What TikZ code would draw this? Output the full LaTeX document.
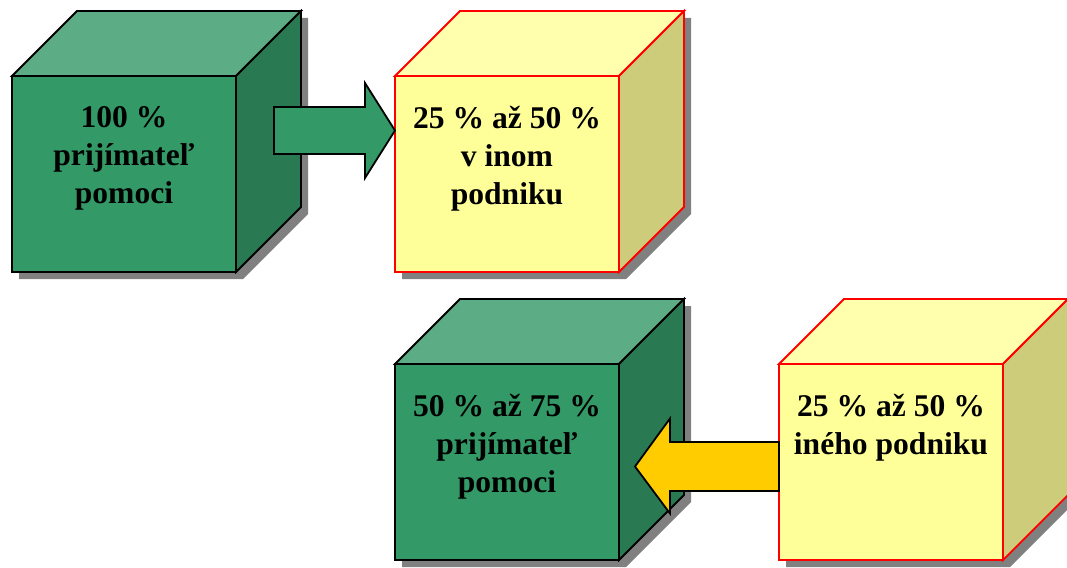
\documentclass[tikz,border=0pt]{standalone}
\usepackage{fontspec}
\setmainfont{Liberation Serif}
\usetikzlibrary{calc}
\definecolor{gfront}{RGB}{51,153,102}
\definecolor{gtop}{RGB}{92,173,133}
\definecolor{gside}{RGB}{41,122,82}
\definecolor{yfront}{RGB}{255,255,153}
\definecolor{ytop}{RGB}{255,255,173}
\definecolor{yside}{RGB}{204,204,122}
\definecolor{shadowgray}{RGB}{128,128,128}
\definecolor{arrowyellow}{RGB}{255,204,0}
\tikzset{
  cubeedge/.style={line width=1.8pt, line join=miter},
  cubetext/.style={anchor=north, inner sep=0pt, align=center,
    font=\fontsize{31.6}{38}\selectfont\bfseries},
  blockarrow/.style={draw=black, line width=1.8pt, line join=miter},
}
% #1 name, #2 x, #3 y, #4 front, #5 top, #6 side, #7 edge, #8 text
\newcommand\mycube[8]{%
  \begin{scope}[shift={(#2,#3)}]
    \fill[shadowgray] (7,7) -- (7,203) -- (231,203) -- (296,138) -- (296,-58) -- (72,-58) -- cycle;
    \filldraw[cubeedge, fill=#5, draw=#7] (0,0) -- (65,-65) -- (289,-65) -- (224,0) -- cycle;
    \filldraw[cubeedge, fill=#6, draw=#7] (224,0) -- (289,-65) -- (289,131) -- (224,196) -- cycle;
    \filldraw[cubeedge, fill=#4, draw=#7] (0,0) rectangle (224,196);
    \node[cubetext] (#1) at (112,30) {#8};
  \end{scope}}
\begin{document}
\begin{tikzpicture}[x=1pt,y=-1pt]
  \useasboundingbox (0,0) rectangle (1067,567);
  \mycube{c1}{12}{76}{gfront}{gtop}{gside}{black}{100 \%\\prijímateľ\\pomoci}
  \mycube{c2}{395}{76}{yfront}{ytop}{yside}{red}{25 \% až 50 \%\\v inom\\podniku}
  \mycube{c3}{395}{364}{gfront}{gtop}{gside}{black}{50 \% až 75 \%\\prijímateľ\\pomoci}
  \mycube{c4}{779}{364}{yfront}{ytop}{yside}{red}{25 \% až 50 \%\\iného podniku}
  % green arrow c1 -> c2
  \coordinate (g1) at (274,130.5);
  \coordinate (g2) at (395,130.5);
  \filldraw[blockarrow, fill=gfront]
    ($(g1)+(0,-23.5)$) -- ($(g2)+(-30,-23.5)$) -- ($(g2)+(-30,-47.5)$) -- (g2)
    -- ($(g2)+(-30,47.5)$) -- ($(g2)+(-30,23.5)$) -- ($(g1)+(0,23.5)$) -- cycle;
  % yellow arrow c4 -> c3
  \coordinate (y1) at (779,466.5);
  \coordinate (y2) at (635,466.5);
  \filldraw[blockarrow, fill=arrowyellow]
    ($(y1)+(0,-24.5)$) -- ($(y2)+(35,-24.5)$) -- ($(y2)+(35,-48)$) -- (y2)
    -- ($(y2)+(35,47)$) -- ($(y2)+(35,24.5)$) -- ($(y1)+(0,24.5)$) -- cycle;
\end{tikzpicture}
\end{document}
